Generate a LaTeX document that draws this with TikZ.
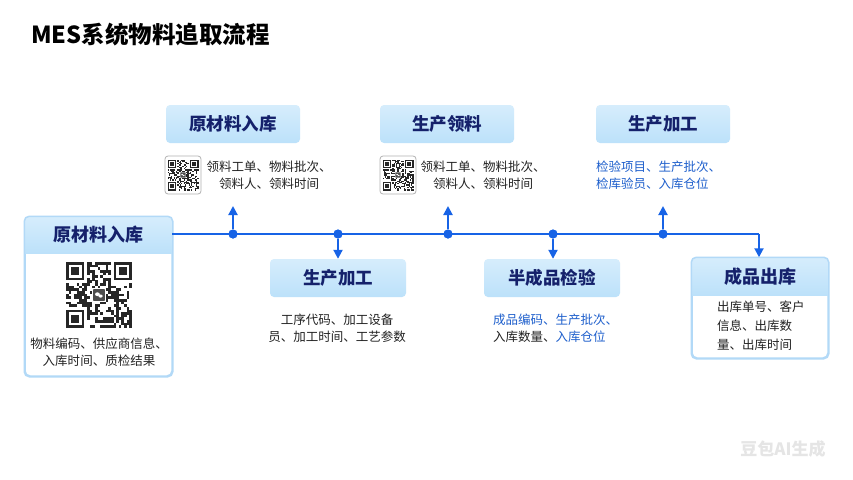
\documentclass[tikz,border=0pt]{standalone}
\usepackage{fontspec}
\setmainfont{Noto Sans CJK SC}
\usetikzlibrary{arrows.meta,calc}
\definecolor{lineblue}{HTML}{1763E6}
\definecolor{hdrtop}{HTML}{D6EDFC}
\definecolor{hdrbot}{HTML}{BCE1FA}
\definecolor{bordblue}{HTML}{B2D9F7}
\definecolor{navy}{HTML}{15216B}
\definecolor{txtblue}{HTML}{1E5FCC}
\definecolor{txtdark}{HTML}{222222}
\tikzset{
  hdrbox/.style={rounded corners=4pt, top color=hdrtop, bottom color=hdrbot, draw=none,
    font=\fontsize{17.5}{20}\selectfont\bfseries, text=navy, minimum width=134pt, minimum height=38pt, inner sep=0pt},
  hdrtext/.style={font=\fontsize{18}{20}\selectfont\bfseries, text=navy, inner sep=0pt},
  capt/.style={font=\fontsize{12.5}{17}\selectfont, text=txtdark, inner sep=0pt},
  outerbox/.style={draw=bordblue, line width=1.5pt, fill=white, rounded corners=5pt, inner sep=0pt},
  mainline/.style={draw=lineblue, line width=2pt},
  arr/.style={draw=lineblue, line width=2pt, -{Triangle[width=9pt,length=9pt]}},
  dot/.style={circle, fill=lineblue, inner sep=0pt, minimum size=9pt},
  qrframe/.style={draw=black!30, fill=white, rounded corners=3pt, line width=0.8pt},
  qrcode/.pic={
    \foreach \i in {0,...,24}{
      \foreach \j in {0,...,24}{
        \pgfmathrandominteger{\r}{0}{99}
        \pgfmathtruncatemacro\ok{(\r<50) && !((\i<8)&&(\j<8)) && !((\i>16)&&(\j<8)) && !((\i<8)&&(\j>16)) && !((\i>9)&&(\i<15)&&(\j>9)&&(\j<15))}
        \ifnum\ok=1 \fill[black!85] (\i,\j) rectangle ++(1.02,1.02); \fi
      }
    }
    \foreach \a/\b in {0/0,18/0,0/18}{
      \fill[black!85] (\a,\b) rectangle ++(7,7);
      \fill[white] (\a+1,\b+1) rectangle ++(5,5);
      \fill[black!85] (\a+2,\b+2) rectangle ++(3,3);
    }
    \fill[black!70, rounded corners=0.6] (10.3,10.3) rectangle (14.7,14.7);
    \fill[white] (11.9,12.2) ellipse (0.9 and 0.7);
    \fill[white] (13.1,12.9) ellipse (0.8 and 0.6);
  }
}
\begin{document}
\begin{tikzpicture}[x=1pt,y=-1pt]
\useasboundingbox (0,0) rectangle (853,479);
\fill[white] (0,0) rectangle (853,479);
\pgfmathsetseed{2718}

% title
\node[anchor=west, inner sep=0pt, font=\fontsize{23.5}{26}\selectfont\bfseries, text=black] (title) at (31,35) {MES系统物料追取流程};

% left box
\node[outerbox, minimum width=147pt, minimum height=159pt] (lbox) at (98.5,296.5) {};
\begin{scope}
  \clip[rounded corners=5pt] (lbox.north west) rectangle (lbox.south east);
  \shade[top color=hdrtop, bottom color=hdrbot] (lbox.north west) rectangle ($(lbox.north east)+(0,37)$);
\end{scope}
\draw[bordblue, line width=1.5pt, rounded corners=5pt] (lbox.north west) rectangle (lbox.south east);
\node[hdrtext, minimum width=147pt, minimum height=37pt] (lhdr) at (98.5,235) {原材料入库};
\pic[scale=2.64] at (66,262) {qrcode};
\node[capt, align=center] (lcap) at (99,352.5) {物料编码、供应商信息、\\入库时间、质检结果};

% final box
\node[outerbox, minimum width=136pt, minimum height=100pt] (fbox) at (760,308) {};
\begin{scope}
  \clip[rounded corners=5pt] (fbox.north west) rectangle (fbox.south east);
  \shade[top color=hdrtop, bottom color=hdrbot] (fbox.north west) rectangle ($(fbox.north east)+(0,38)$);
\end{scope}
\draw[bordblue, line width=1.5pt, rounded corners=5pt] (fbox.north west) rectangle (fbox.south east);
\node[hdrtext] (fhdr) at (760,277) {成品出库};
\node[capt, anchor=west, align=left, font=\fontsize{12.5}{19}\selectfont] (fcap) at (717,325.5) {出库单号、客户\\信息、出库数\\量、出库时间};

% top boxes
\node[hdrbox] (t1) at (233,124) {原材料入库};
\node[hdrbox] (t2) at (447,124) {生产领料};
\node[hdrbox] (t3) at (663,124) {生产加工};

% bottom boxes
\node[hdrbox, minimum width=136pt] (b1) at (338,278) {生产加工};
\node[hdrbox, minimum width=136pt] (b2) at (552,278) {半成品检验};

% captions for top boxes
\node[qrframe, minimum width=36pt, minimum height=38pt] (q1) at (183,175) {};
\pic[scale=1.24] at (167.5,159.5) {qrcode};
\node[capt, align=center] (c1) at (269,175) {领料工单、物料批次、\\领料人、领料时间};
\node[qrframe, minimum width=36pt, minimum height=38pt] (q2) at (398,175) {};
\pic[scale=1.24] at (382.5,159.5) {qrcode};
\node[capt, align=center] (c2) at (483,175) {领料工单、物料批次、\\领料人、领料时间};
\node[capt, anchor=west, align=left, text=txtblue] (c3) at (596,175) {检验项目、生产批次、\\检库验员、入库仓位};

% captions for bottom boxes
\node[capt, align=center] (c4) at (337,328.5) {工序代码、加工设备\\员、加工时间、工艺参数};
\node[capt, anchor=west, align=left] (c5) at (493,328.5) {\textcolor{txtblue}{成品编码、生产批次、}\\入库数量、\textcolor{txtblue}{入库仓位}};

% timeline
\node[dot] (d1) at (233,234) {};
\node[dot] (d2) at (338,234) {};
\node[dot] (d3) at (448,234) {};
\node[dot] (d4) at (553,234) {};
\node[dot] (d5) at (663,234) {};
\coordinate (corner) at (759,234);
\coordinate (u1) at (233,206);
\coordinate (u3) at (448,206);
\coordinate (u5) at (663,206);
\draw[mainline] (lhdr.east |- d1) -- (d1.center) -- (d2.center) -- (d3.center) -- (d4.center) -- (d5.center) -- (corner);
\draw[arr] (corner) -- (corner |- fbox.north);
\draw[arr] (d1) -- (u1);
\draw[arr] (d3) -- (u3);
\draw[arr] (d5) -- (u5);
\draw[arr] (d2) -- (d2 |- b1.north);
\draw[arr] (d4) -- (d4 |- b2.north);
\node[dot] at (d1) {};
\node[dot] at (d2) {};
\node[dot] at (d3) {};
\node[dot] at (d4) {};
\node[dot] at (d5) {};

% watermark
\node[inner sep=0pt, font=\fontsize{17}{20}\selectfont\bfseries, text=black!10] (wm) at (783,449) {豆包AI生成};
\end{tikzpicture}
\end{document}
